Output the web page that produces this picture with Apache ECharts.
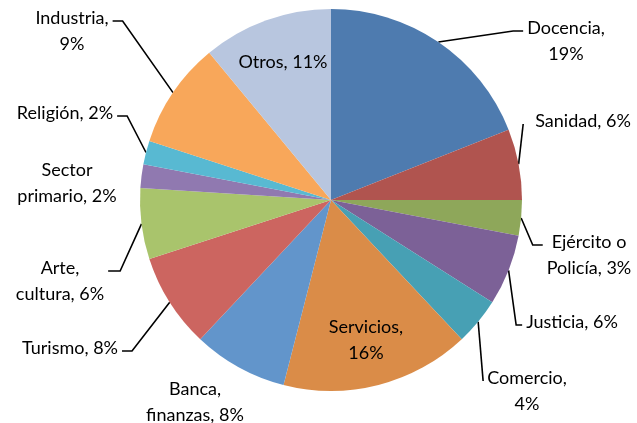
<!DOCTYPE html>
<html>
<head>
<meta charset="utf-8">
<script src="https://cdn.jsdelivr.net/npm/echarts@6/dist/echarts.min.js"></script>
<style>html,body{margin:0;background:#fff}#chart{width:637px;height:423px}</style>
</head>
<body>
<div id="chart"></div>
<script>
const categories = ['Docencia', 'Sanidad', 'Ejército o Policía', 'Justicia', 'Comercio', 'Servicios',
  'Banca, finanzas', 'Turismo', 'Arte, cultura', 'Sector primario', 'Religión', 'Industria', 'Otros']
const values = [19, 6, 3, 6, 4, 16, 8, 8, 6, 2, 2, 9, 11]
const colors = ['#4E7BAF', '#B0544F', '#8EA75A', '#7C6197', '#47A0B4', '#DA8C48',
  '#6295CB', '#CC6560', '#A9C46C', '#9079B0', '#58B9D2', '#F8A75A', '#B8C6DF']

// where each label sits: centre x, centre y, which space becomes a line break,
// side of the label the leader line reaches ('L' / 'R' / null), horizontal stub, gap
const labelPlaces = [
  [566, 41, 1, 'L', 10, 4],
  [583, 121, 0, 'L', 0, 12],
  [589, 255, 2, 'L', 10, 4],
  [572, 322, 0, 'L', 6, 4],
  [527, 391, 1, 'L', 0, 4],
  [366, 340, 1, null, 0, 0],
  [195, 402, 1, null, 0, 0],
  [70, 348, 0, 'R', 10, 4],
  [60, 281, 1, 'R', 12, 4],
  [67, 183, 1, null, 0, 0],
  [65, 113, 0, 'R', 10, 4],
  [72, 31, 1, 'R', 10, 4],
  [283, 62, 0, null, 0, 0]
]

function breakAt(text, n) {
  if (!n) return text
  let count = 0
  return text.replace(/ /g, s => (++count === n ? '\n' : s))
}

const chart = echarts.init(document.getElementById('chart'))
const option = {
  animation: false,
  color: colors,
  series: [
    {
      type: 'pie',
      center: [331, 200],
      radius: 191,
      startAngle: 90,
      clockwise: true,
      avoidLabelOverlap: false,
      emphasis: { disabled: true },
      itemStyle: { borderWidth: 0 },
      label: {
        show: true,
        color: '#000',
        fontFamily: 'Lato',
        fontSize: 18,
        lineHeight: 26,
        formatter: p => breakAt(p.name + ', ' + p.value + '%', labelPlaces[p.dataIndex][2])
      },
      labelLine: {
        show: true,
        lineStyle: { color: '#000', width: 1.6 }
      },
      labelLayout(params) {
        const [x, y, , side, stub, gap] = labelPlaces[params.dataIndex]
        const out = { x, y, align: 'center', verticalAlign: 'middle' }
        if (side && params.labelLinePoints) {
          const r = params.labelRect
          const top = y - r.height / 2
          const ly = top + 16
          const ex = side === 'L' ? x - r.width / 2 - gap : x + r.width / 2 + gap
          const sx = side === 'L' ? ex - stub : ex + stub
          out.labelLinePoints = [params.labelLinePoints[0], [sx, ly], [ex, ly]]
        }
        return out
      },
      data: categories.map((name, i) => ({
        name,
        value: values[i],
        labelLine: { show: labelPlaces[i][3] !== null }
      }))
    }
  ]
}
chart.setOption(option)
</script>
</body>
</html>
